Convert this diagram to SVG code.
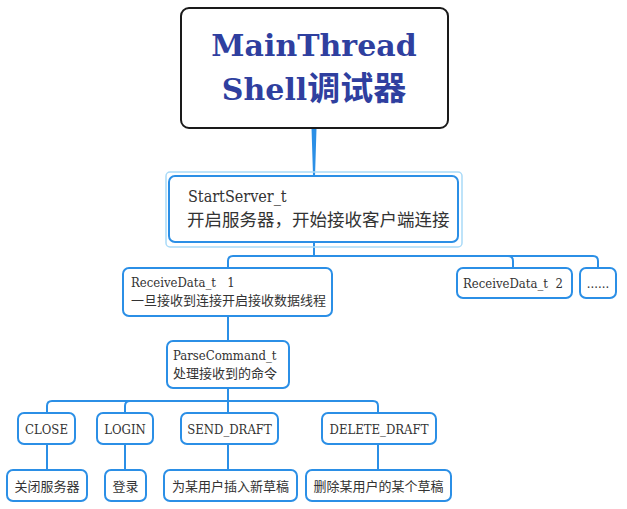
<svg xmlns="http://www.w3.org/2000/svg" width="627" height="509" viewBox="0 0 627 509">
<style>
.bx{fill:#fff;stroke:#2B8FE6;stroke-width:2}
.cn{fill:none;stroke:#2B8FE6;stroke-width:2}
.lt{font-family:"DejaVu Serif","Liberation Serif",serif;font-stretch:condensed;font-size:13px;fill:#333}
.cj{font-family:"Noto Sans CJK SC","Noto Sans",sans-serif;font-size:13px;fill:#333}
.c{text-anchor:middle}
</style>
<rect width="627" height="509" fill="#fff"/>
<g id="connectors">
<polygon points="311.5,128 316.5,128 315,176 313,176" fill="#2B8FE6"/>
<path class="cn" d="M314,242 V256 M314,256 H233 Q228,256 228,261 V268 M314,256 H508 Q513,256 513,261 V268 M314,256 H593 Q598,256 598,261 V268"/>
<path class="cn" d="M228,316 V341"/>
<path class="cn" d="M228,388 V401 M228,401 H52 Q47,401 47,406 V413 M228,401 H130 Q125,401 125,406 V413 M228,401 V413 M228,401 H373 Q378,401 378,406 V413"/>
<path class="cn" d="M47,444 V470 M125,444 V470 M228,444 V470 M378,444 V470"/>
</g>
<g id="main">
<rect x="181" y="8" width="267" height="120" rx="8" fill="#fff" stroke="#1a1a1a" stroke-width="2"/>
<text x="314" y="56" class="c" style="font-family:'DejaVu Serif',serif;font-weight:bold;font-size:30px;fill:#2F3F9F">MainThread</text>
<text x="314" y="100" class="c" style="font-family:'DejaVu Serif',serif;font-weight:bold;font-size:30px;fill:#2F3F9F">Shell<tspan style="font-family:'Noto Sans CJK SC',sans-serif;font-size:33px">调试器</tspan></text>
</g>
<g id="startserver">
<rect x="166" y="172" width="296" height="75" rx="4" fill="none" stroke="#A9DAF8" stroke-width="1.5"/>
<rect class="bx" x="169" y="176" width="289" height="66" rx="6"/>
<text x="188" y="202" class="lt" style="font-size:16px">StartServer_t</text>
<text x="187" y="226" class="cj" style="font-size:17.5px">开启服务器，开始接收客户端连接</text>
</g>
<g id="receive1">
<rect class="bx" x="123" y="268" width="209" height="48" rx="6"/>
<text x="131" y="287" class="lt" xml:space="preserve">ReceiveData_t   1</text>
<text x="131" y="305" class="cj">一旦接收到连接开启接收数据线程</text>
</g>
<g id="receive2">
<rect class="bx" x="457" y="268" width="115" height="30" rx="6"/>
<text x="463" y="288" class="lt" xml:space="preserve">ReceiveData_t  2</text>
</g>
<g id="more">
<rect class="bx" x="580" y="268" width="36" height="30" rx="6"/>
<text x="598" y="288" class="lt c">......</text>
</g>
<g id="parse">
<rect class="bx" x="167" y="341" width="122" height="47" rx="6"/>
<text x="173" y="360" class="lt">ParseCommand_t</text>
<text x="173" y="378" class="cj">处理接收到的命令</text>
</g>
<g id="close">
<rect class="bx" x="18" y="413" width="57" height="31" rx="6"/>
<text x="46.5" y="434" class="lt c">CLOSE</text>
</g>
<g id="login">
<rect class="bx" x="97" y="413" width="56" height="31" rx="6"/>
<text x="125" y="434" class="lt c">LOGIN</text>
</g>
<g id="senddraft">
<rect class="bx" x="181" y="413" width="97" height="31" rx="6"/>
<text x="229.5" y="434" class="lt c">SEND_DRAFT</text>
</g>
<g id="deletedraft">
<rect class="bx" x="322" y="413" width="114" height="31" rx="6"/>
<text x="379" y="434" class="lt c">DELETE_DRAFT</text>
</g>
<g id="close-desc">
<rect class="bx" x="7" y="470" width="80" height="31" rx="6"/>
<text x="47" y="491" class="cj c">关闭服务器</text>
</g>
<g id="login-desc">
<rect class="bx" x="105" y="470" width="41" height="31" rx="6"/>
<text x="125.5" y="491" class="cj c">登录</text>
</g>
<g id="send-desc">
<rect class="bx" x="164" y="470" width="133" height="31" rx="6"/>
<text x="230.5" y="491" class="cj c">为某用户插入新草稿</text>
</g>
<g id="delete-desc">
<rect class="bx" x="306" y="470" width="145" height="31" rx="6"/>
<text x="378.5" y="491" class="cj c">删除某用户的某个草稿</text>
</g>
</svg>
